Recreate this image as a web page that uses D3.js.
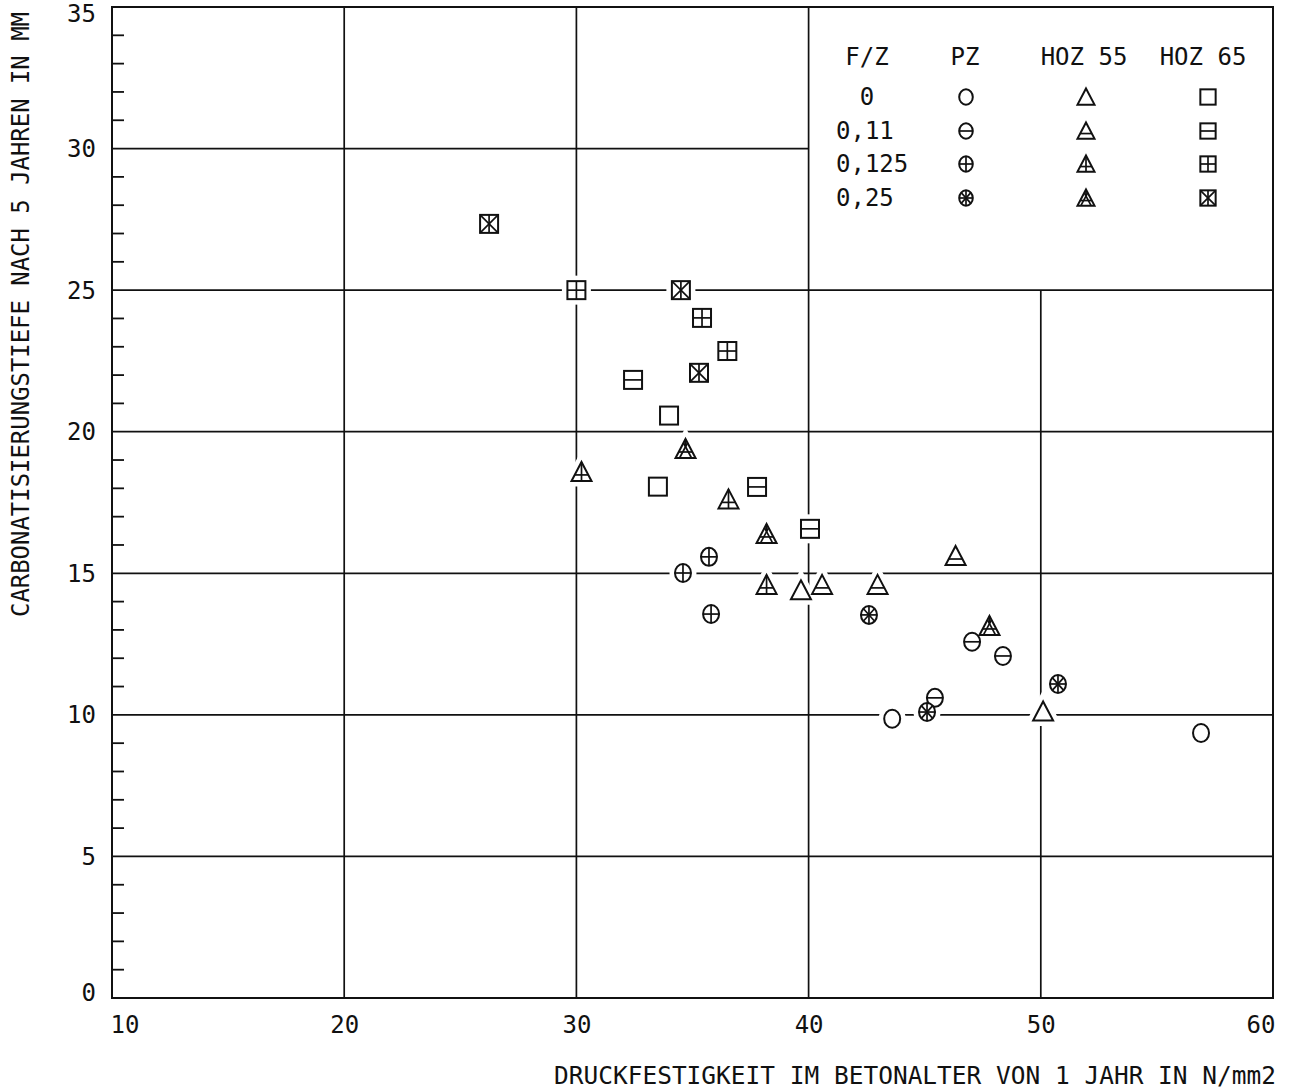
<!DOCTYPE html>
<html>
<head>
<meta charset="utf-8">
<script src="https://cdn.jsdelivr.net/npm/d3@7"></script>
<style>
  html, body { margin: 0; padding: 0; background: #fff; }
  svg { display: block; }
  text { font-family: "DejaVu Sans Mono", monospace; fill: #111; }
</style>
</head>
<body>
<script>
// ---------- DATA ----------
const xTicks = [10, 20, 30, 40, 50, 60];
const yTicks = [0, 5, 10, 15, 20, 25, 30, 35];
const yMinorTicks = d3.range(1, 35).filter(v => v % 5 !== 0);
const xGridValues = [20, 30, 40, 50];
const yGridValues = [5, 10, 15, 20, 25, 30];

const fzLabels = ["0", "0,11", "0,125", "0,25"];
const cementLabels = ["PZ", "HOZ 55", "HOZ 65"];

// PZ (circles)  [Druckfestigkeit, Carbonatisierungstiefe]
const pz_0     = [[43.6, 9.86], [56.9, 9.36]];
const pz_011   = [[45.44, 10.6], [47.04, 12.58], [48.37, 12.08]];
const pz_0125  = [[34.59, 15.01], [35.71, 15.58], [35.8, 13.56]];
const pz_025   = [[42.6, 13.53], [45.1, 10.1], [50.74, 11.09]];

// HOZ 55 (triangles)
const hoz55_0    = [[39.67, 14.4], [50.1, 10.12]];
const hoz55_011  = [[40.58, 14.59], [42.97, 14.59], [46.33, 15.61]];
const hoz55_0125 = [[30.22, 18.58], [36.55, 17.61], [38.19, 14.59]];
const hoz55_025  = [[34.7, 19.39], [38.19, 16.39], [47.79, 13.14]];

// HOZ 65 (squares)
const hoz65_0    = [[33.99, 20.57], [33.51, 18.06]];
const hoz65_011  = [[32.44, 21.83], [37.78, 18.05], [40.06, 16.57]];
const hoz65_0125 = [[30.0, 25.0], [35.41, 24.02], [36.5, 22.85]];
const hoz65_025  = [[26.24, 27.34], [34.5, 25.0], [35.28, 22.08]];

const seriesTable = [
  { shape: "circle",   variant: 0, points: pz_0 },
  { shape: "circle",   variant: 1, points: pz_011 },
  { shape: "circle",   variant: 2, points: pz_0125 },
  { shape: "circle",   variant: 3, points: pz_025 },
  { shape: "triangle", variant: 0, points: hoz55_0 },
  { shape: "triangle", variant: 1, points: hoz55_011 },
  { shape: "triangle", variant: 2, points: hoz55_0125 },
  { shape: "triangle", variant: 3, points: hoz55_025 },
  { shape: "square",   variant: 0, points: hoz65_0 },
  { shape: "square",   variant: 1, points: hoz65_011 },
  { shape: "square",   variant: 2, points: hoz65_0125 },
  { shape: "square",   variant: 3, points: hoz65_025 }
];

// ---------- LAYOUT ----------
const W = 1295, H = 1090;
const x = d3.scaleLinear().domain([10, 60]).range([112, 1273]);
const y = d3.scaleLinear().domain([0, 35]).range([998, 7]);

const svg = d3.select("body").append("svg").attr("width", W).attr("height", H);
const INK = "#111";

// grid (the legend box region x>40, y>25 is free of grid lines)
const grid = svg.append("g").attr("stroke", INK).attr("stroke-width", 1.7);
grid.selectAll("line.h").data(yGridValues).join("line")
  .attr("x1", x(10)).attr("x2", d => d > 25 ? x(40) : x(60))
  .attr("y1", d => y(d)).attr("y2", d => y(d));
grid.selectAll("line.v").data(xGridValues).join("line")
  .attr("y1", y(0)).attr("y2", d => d > 40 ? y(25) : y(35))
  .attr("x1", d => x(d)).attr("x2", d => x(d));

// frame
svg.append("rect").attr("x", x(10)).attr("y", y(35))
  .attr("width", x(60) - x(10)).attr("height", y(0) - y(35))
  .attr("fill", "none").attr("stroke", INK).attr("stroke-width", 2);

// minor ticks on y axis
svg.append("g").attr("stroke", INK).attr("stroke-width", 1.8)
  .selectAll("line").data(yMinorTicks).join("line")
  .attr("x1", x(10)).attr("x2", x(10) + 12)
  .attr("y1", d => y(d)).attr("y2", d => y(d));

// y axis labels
const yAxis = svg.append("g").attr("transform", `translate(${x(10)},0)`)
  .call(d3.axisLeft(y).tickValues(yTicks).tickSize(0).tickPadding(16).tickFormat(d3.format("d")));
yAxis.select(".domain").remove();
yAxis.selectAll("text").style("font-size", "24px").attr("fill", INK)
  .attr("dy", null).attr("dominant-baseline", "central")
  .attr("transform", d => d === 35 ? "translate(0,6)" : d === 0 ? "translate(0,-6)" : null);

// x axis labels
const xAxis = svg.append("g").attr("transform", `translate(0,${y(0)})`)
  .call(d3.axisBottom(x).tickValues(xTicks).tickSize(0).tickPadding(18).tickFormat(d3.format("d")));
xAxis.select(".domain").remove();
xAxis.selectAll("text").style("font-size", "24px").attr("fill", INK)
  .attr("text-anchor", d => d === 10 ? "start" : d === 60 ? "end" : "middle")
  .attr("dx", d => d === 10 ? "-2" : d === 60 ? "2" : "0");

// axis titles
svg.append("text").attr("x", 1276).attr("y", 1084).attr("text-anchor", "end")
  .style("font-size", "25px")
  .attr("textLength", 722).attr("lengthAdjust", "spacingAndGlyphs")
  .text("DRUCKFESTIGKEIT IM BETONALTER VON 1 JAHR IN N/mm2");
svg.append("text").attr("transform", "translate(29,617) rotate(-90)")
  .attr("text-anchor", "start").style("font-size", "24px")
  .attr("textLength", 605).attr("lengthAdjust", "spacingAndGlyphs")
  .text("CARBONATISIERUNGSTIEFE NACH 5 JAHREN IN MM");

// ---------- MARKERS ----------
function drawShape(g, shape, variant, k, halo) {
  const sw = halo ? 11 : 2;
  const stroke = halo ? "#fff" : INK;
  const L = (x1, y1, x2, y2) => g.append("line")
    .attr("x1", x1 * k).attr("y1", y1 * k).attr("x2", x2 * k).attr("y2", y2 * k)
    .attr("stroke", INK).attr("stroke-width", 1.7);
  if (shape === "circle") {
    g.append("ellipse").attr("rx", 8 * k).attr("ry", 9 * k)
      .attr("fill", "#fff").attr("stroke", stroke).attr("stroke-width", sw);
    if (halo) return;
    if (variant >= 1) L(-8, 0, 8, 0);
    if (variant === 2) L(0, -9, 0, 9);
    if (variant === 3) { L(0, -9, 0, 9); L(-5.7, -6.4, 5.7, 6.4); L(5.7, -6.4, -5.7, 6.4); }
  } else if (shape === "square") {
    g.append("rect").attr("x", -9 * k).attr("y", -9 * k).attr("width", 18 * k).attr("height", 18 * k)
      .attr("fill", "#fff").attr("stroke", stroke).attr("stroke-width", sw);
    if (halo) return;
    if (variant === 1 || variant === 2) L(-9, 0, 9, 0);
    if (variant === 2) L(0, -9, 0, 9);
    if (variant === 3) { L(-9, -9, 9, 9); L(9, -9, -9, 9); L(0, -9, 0, 9); }
  } else {
    g.append("path").attr("d", `M0,${-10 * k}L${10 * k},${9 * k}L${-10 * k},${9 * k}Z`)
      .attr("fill", "#fff").attr("stroke", stroke).attr("stroke-width", sw)
      .attr("stroke-linejoin", "miter");
    if (halo) return;
    if (variant >= 1) L(-6.8, 3, 6.8, 3);
    if (variant === 2) L(0, -10, 0, 9);
    if (variant === 3) { L(-6, 9, 2, -6); L(6, 9, -2, -6); L(0, -10, 0, -3); }
  }
}

const flat = seriesTable.flatMap(s => s.points.map(p => ({ shape: s.shape, variant: s.variant, p })));
const haloLayer = svg.append("g");
const markLayer = svg.append("g");
flat.forEach(d => {
  drawShape(haloLayer.append("g").attr("transform", `translate(${x(d.p[0])},${y(d.p[1])})`), d.shape, d.variant, 1, true);
});
flat.forEach(d => {
  drawShape(markLayer.append("g").attr("transform", `translate(${x(d.p[0])},${y(d.p[1])})`), d.shape, d.variant, 1, false);
});

// ---------- LEGEND ----------
const legend = svg.append("g");
const colX = [867, 965, 1084, 1203];
const headers = ["F/Z"].concat(cementLabels);
legend.selectAll("text.hdr").data(headers).join("text")
  .attr("x", (d, i) => colX[i]).attr("y", 57).attr("text-anchor", "middle")
  .attr("dominant-baseline", "central").style("font-size", "24px").text(d => d);
const rowY = [97, 131, 164, 198];
legend.selectAll("text.fz").data(fzLabels).join("text")
  .attr("x", (d, i) => i === 0 ? 867 : 836).attr("y", (d, i) => rowY[i])
  .attr("text-anchor", (d, i) => i === 0 ? "middle" : "start")
  .attr("dominant-baseline", "central").style("font-size", "24px").text(d => d);
const legendShapes = ["circle", "triangle", "square"];
const legendShapeX = [966, 1086, 1208];
legendShapes.forEach((shape, c) => {
  fzLabels.forEach((lab, r) => {
    drawShape(legend.append("g").attr("transform", `translate(${legendShapeX[c]},${rowY[r]})`), shape, r, 0.85, false);
  });
});
</script>
</body>
</html>
